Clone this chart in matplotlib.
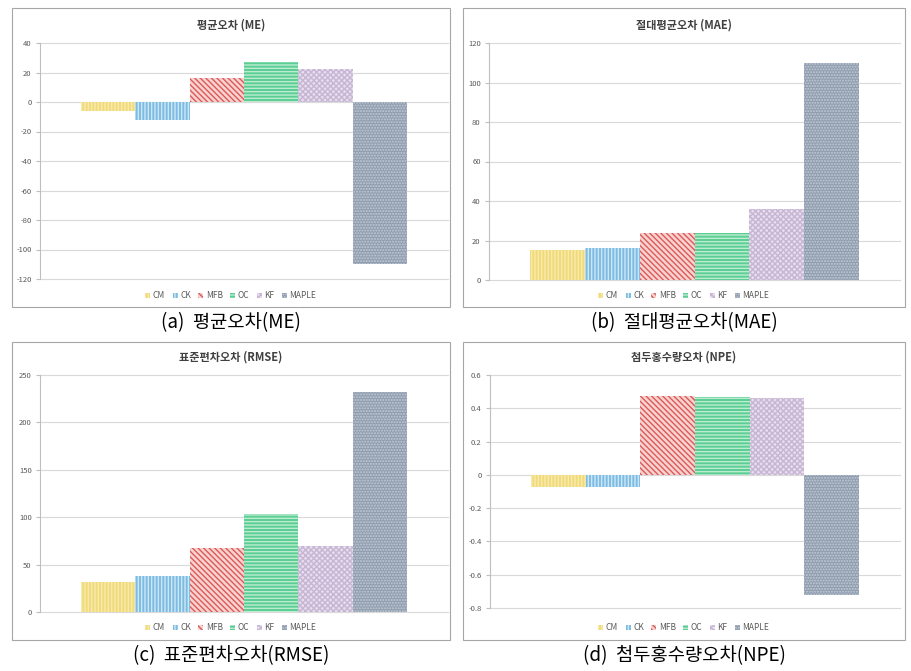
import matplotlib
matplotlib.use("Agg")
import matplotlib.pyplot as plt
from matplotlib.patches import Rectangle, Patch
import numpy as np

plt.rcParams['font.family'] = ['Noto Sans CJK KR', 'DejaVu Sans']
plt.rcParams['hatch.linewidth'] = 1.0

methods = ['CM', 'CK', 'MFB', 'OC', 'KF', 'MAPLE']
me_vals = [-6.0, -12.0, 16.3, 26.8, 22.3, -109.5]
mae_vals = [15.0, 16.0, 24.0, 23.6, 35.7, 110.0]
rmse_vals = [31.5, 38.5, 68.0, 103.5, 70.0, 232.5]
npe_vals = [-0.07, -0.07, 0.476, 0.468, 0.464, -0.72]

titles = ['평균오차 (ME)', '절대평균오차 (MAE)', '표준편차오차 (RMSE)', '첨두홍수량오차 (NPE)']
captions = ['(a)  평균오차(ME)', '(b)  절대평균오차(MAE)', '(c)  표준편차오차(RMSE)', '(d)  첨두홍수량오차(NPE)']
yticks_list = [
    [-120, -100, -80, -60, -40, -20, 0, 20, 40],
    [0, 20, 40, 60, 80, 100, 120],
    [0, 50, 100, 150, 200, 250],
    [-0.8, -0.6, -0.4, -0.2, 0, 0.2, 0.4, 0.6],
]
ytick_labels = [
    ['-120', '-100', '-80', '-60', '-40', '-20', '0', '20', '40'],
    ['0', '20', '40', '60', '80', '100', '120'],
    ['0', '50', '100', '150', '200', '250'],
    ['-0.8', '-0.6', '-0.4', '-0.2', '0', '0.2', '0.4', '0.6'],
]
data_list = [me_vals, mae_vals, rmse_vals, npe_vals]

# styles: facecolor, hatch color, hatch
styles = [
    ('#F1DB78', '#F7EAB0', '|||||'),
    ('#7CBCE4', '#CFE6F4', '|||||'),
    ('#F7D2CF', '#DB5A5A', '\\\\\\\\\\\\'),
    ('#5BCF93', '#BCEBD2', '-----'),
    ('#E7DDEC', '#C6B5D4', 'xxxxxx'),
    ('#8E9CAE', '#C3CCD7', '......'),
]

W, H = 912, 671
fig = plt.figure(figsize=(W / 100, H / 100), dpi=100)


def fx(x):
    return x / W


def fy(y):
    return 1 - y / H


# panel geometry (pixels): frame box, plot box, title y, legend y, caption y
panels = [
    dict(frame=(12, 8, 450, 307), plot=(40, 43, 448, 279), ty=25, ly=296, cy=323),
    dict(frame=(463, 8, 905, 307), plot=(489, 43, 900, 280), ty=25, ly=296, cy=323),
    dict(frame=(12, 342, 450, 640), plot=(40, 375, 448, 612), ty=357, ly=628, cy=656),
    dict(frame=(463, 342, 905, 640), plot=(490, 375, 900, 608), ty=357, ly=628, cy=656),
]

n = len(methods)
bw = 0.8 / n
offsets = (np.arange(n) - (n - 1) / 2) * bw

for i, p in enumerate(panels):
    x0, y0, x1, y1 = p['frame']
    fig.patches.append(Rectangle((fx(x0), fy(y1)), fx(x1 - x0), (y1 - y0) / H,
                                 transform=fig.transFigure, facecolor='none',
                                 edgecolor='#A6A6A6', linewidth=0.8, zorder=-1))
    px0, py0, px1, py1 = p['plot']
    ax = fig.add_axes([fx(px0), fy(py1), fx(px1 - px0), (py1 - py0) / H])
    ax.set_facecolor('none')
    vals = data_list[i]
    for j in range(n):
        fc, hc, hatch = styles[j]
        ax.bar(offsets[j], vals[j], width=bw, color=fc, linewidth=0, zorder=2)
        ax.bar(offsets[j], vals[j], width=bw, facecolor='none', edgecolor=hc,
               hatch=hatch, linewidth=0, zorder=3)
    ax.set_xlim(-0.5, 0.5)
    yt = yticks_list[i]
    ax.set_ylim(yt[0], yt[-1])
    ax.set_yticks(yt)
    ax.set_yticklabels(ytick_labels[i], fontsize=5.5, color='#595959')
    ax.set_xticks([])
    ax.grid(axis='y', color='#D9D9D9', linewidth=0.8, zorder=0)
    for gl in ax.yaxis.get_gridlines():
        gl.set_clip_on(False)
    ax.set_axisbelow(True)
    for s in ['top', 'right', 'bottom']:
        ax.spines[s].set_visible(False)
    ax.spines['left'].set_color('#BFBFBF')
    ax.spines['left'].set_linewidth(0.8)
    ax.tick_params(axis='y', length=3, width=0.8, color='#BFBFBF', pad=3)

    cxf = fx((x0 + x1) / 2)
    fig.text(cxf, fy(p['ty']), titles[i], ha='center', va='center',
             fontsize=8, fontweight='bold', color='#404040')

    handles = [Patch(facecolor=styles[j][0], edgecolor=styles[j][1],
                     hatch=styles[j][2], linewidth=0) for j in range(n)]
    fig.legend(handles, methods, loc='center', bbox_to_anchor=(cxf, fy(p['ly'])),
               ncol=n, frameon=False, fontsize=6, labelcolor='#595959',
               handlelength=0.6, handleheight=0.6, handletextpad=0.3,
               columnspacing=0.9, borderpad=0)

    fig.text(cxf, fy(p['cy']), captions[i], ha='center', va='center',
             fontsize=13.5, color='black')

fig.savefig('out.png', dpi=100)
